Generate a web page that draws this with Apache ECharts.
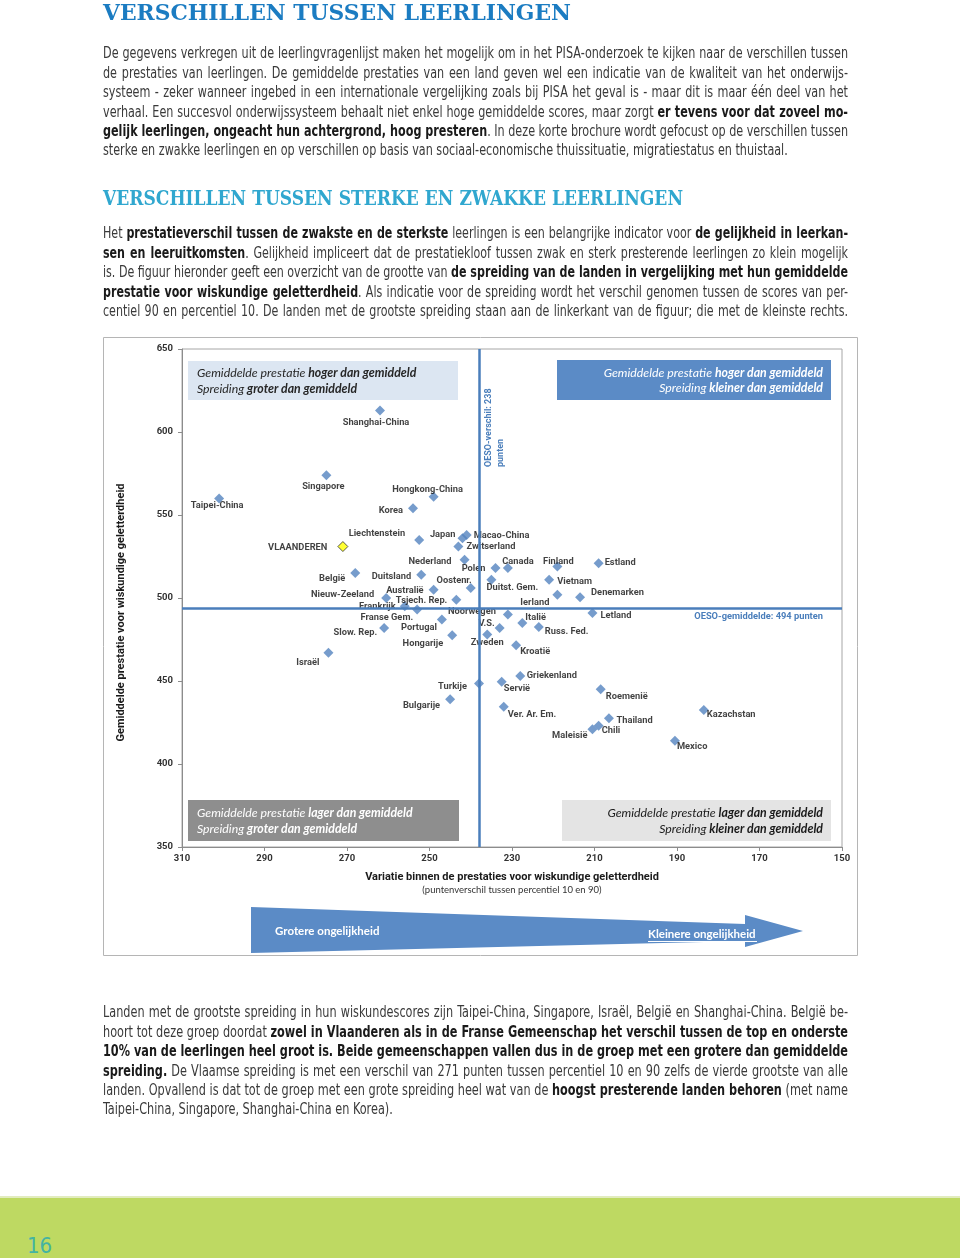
<!DOCTYPE html>
<html>
<head>
<meta charset="utf-8">
<script src="https://cdn.jsdelivr.net/npm/echarts@6/dist/echarts.min.js"></script>
<style>
html, body { margin: 0; padding: 0; background: #fff; }
#page { position: relative; width: 960px; height: 1258px; overflow: hidden; }
#container { position: absolute; left: 0; top: 0; width: 960px; height: 1258px; }
.txt { position: absolute; left: 103px; white-space: nowrap; font-family: 'Liberation Sans Narrow', 'DejaVu Sans Condensed', 'Liberation Sans', sans-serif; font-size: 15px; line-height: 19.4px; height: 19.4px; color: #3a3a3a; }
.txt b { color: #1a1a1a; }
.txt span, .kop span { display: inline-block; transform-origin: 0 50%; }
.kop { position: absolute; left: 103px; white-space: nowrap; font-family: 'DejaVu Serif', serif; font-weight: bold; }
#band { position: absolute; left: 0; top: 1196px; width: 960px; height: 62px; background: #bed962; border-top: 2px solid #e2ecbf; }
#pnum { position: absolute; left: 27px; top: 1233px; font-family: 'Liberation Sans Narrow', 'DejaVu Sans Condensed', sans-serif; font-size: 22px; color: #44b3a2; }
</style>
</head>
<body>
<div id="page">
  <div id="container"></div>
  <div id="band"></div>
  <div id="pnum">16</div>
</div>
<script>
// tekst rond de figuur
var kop1 = 'VERSCHILLEN TUSSEN LEERLINGEN';
var kop2 = 'VERSCHILLEN TUSSEN STERKE EN ZWAKKE LEERLINGEN';

var par1 = [
    'De gegevens verkregen uit de leerlingvragenlijst maken het mogelijk om in het PISA-onderzoek te kijken naar de verschillen tussen',
    'de prestaties van leerlingen. De gemiddelde prestaties van een land geven wel een indicatie van de kwaliteit van het onderwijs-',
    'systeem - zeker wanneer ingebed in een internationale vergelijking zoals bij PISA het geval is - maar dit is maar één deel van het',
    'verhaal. Een succesvol onderwijssysteem behaalt niet enkel hoge gemiddelde scores, maar zorgt <b>er tevens voor dat zoveel mo-</b>',
    '<b>gelijk leerlingen, ongeacht hun achtergrond, hoog presteren</b>. In deze korte brochure wordt gefocust op de verschillen tussen',
    'sterke en zwakke leerlingen en op verschillen op basis van sociaal-economische thuissituatie, migratiestatus en thuistaal.'
];
var par2 = [
    'Het <b>prestatieverschil tussen de zwakste en de sterkste</b> leerlingen is een belangrijke indicator voor <b>de gelijkheid in leerkan-</b>',
    '<b>sen en leeruitkomsten</b>. Gelijkheid impliceert dat de prestatiekloof tussen zwak en sterk presterende leerlingen zo klein mogelijk',
    'is. De figuur hieronder geeft een overzicht van de grootte van <b>de spreiding van de landen in vergelijking met hun gemiddelde</b>',
    '<b>prestatie voor wiskundige geletterdheid</b>. Als indicatie voor de spreiding wordt het verschil genomen tussen de scores van per-',
    'centiel 90 en percentiel 10. De landen met de grootste spreiding staan aan de linkerkant van de figuur; die met de kleinste rechts.'
];
var par3 = [
    'Landen met de grootste spreiding in hun wiskundescores zijn Taipei-China, Singapore, Israël, België en Shanghai-China. België be-',
    'hoort tot deze groep doordat <b>zowel in Vlaanderen als in de Franse Gemeenschap het verschil tussen de top en onderste</b>',
    '<b>10% van de leerlingen heel groot is. Beide gemeenschappen vallen dus in de groep met een grotere dan gemiddelde</b>',
    '<b>spreiding.</b> De Vlaamse spreiding is met een verschil van 271 punten tussen percentiel 10 en 90 zelfs de vierde grootste van alle',
    'landen. Opvallend is dat tot de groep met een grote spreiding heel wat van de <b>hoogst presterende landen behoren</b> (met name',
    'Taipei-China, Singapore, Shanghai-China en Korea).'
];

// gegevens van de figuur: spreiding (P90-P10) en gemiddelde score
var landen = ['Shanghai-China', 'Singapore', 'Taipei-China', 'Hongkong-China', 'Korea', 'Liechtenstein', 'Japan',
    'Macao-China', 'Zwitserland', 'Nederland', 'Polen', 'Canada', 'Finland', 'Estland', 'Vietnam', 'Duitst. Gem.',
    'Oostenr.', 'Duitsland', 'België', 'Australië', 'Nieuw-Zeeland', 'Tsjech. Rep.', 'Frankrijk', 'Franse Gem.',
    'Noorwegen', 'Portugal', 'Italië', 'Letland', 'Denemarken', 'Ierland', 'V.S.', 'Russ. Fed.', 'Slow. Rep.',
    'Hongarije', 'Zweden', 'Kroatië', 'Israël', 'Griekenland', 'Turkije', 'Servië', 'Roemenië', 'Bulgarije',
    'Ver. Ar. Em.', 'Kazachstan', 'Thailand', 'Chili', 'Maleisië', 'Mexico'];
var spreiding = [262, 275, 301, 249, 254, 252.5, 242,
    241, 243, 241.5, 234, 231, 219, 209, 221, 235,
    240, 252, 268, 249, 260.5, 243.5, 256, 253,
    231, 247, 227.5, 210.5, 213.5, 219, 233, 223.5, 261,
    244.5, 236, 229, 274.5, 228, 238, 232.5, 208.5, 245,
    232, 183.5, 206.5, 209, 210.5, 190.5];
var gemiddelde = [613, 574, 560, 561, 554, 535, 536,
    538, 531, 523, 518, 518, 519, 521, 511, 511,
    506, 514, 515, 505, 500, 499, 495, 493,
    490, 487, 485, 491, 500.5, 502, 482, 482.5, 482,
    477.5, 478, 471.5, 467, 453, 448.5, 449.5, 445, 439,
    434.5, 432.5, 427.5, 423, 421, 414];

var vlaanderen = { naam: 'VLAANDEREN', spreiding: 271, gemiddelde: 531 };
var oesoVerschil = 238;
var oesoGemiddelde = 494;

var xTicks = { min: 150, max: 310, interval: 20 };
var yTicks = { min: 350, max: 650, interval: 50 };

// plaats van de etiketten: [positie, dx, dy]
var etiket = {
    'Shanghai-China': ['bottom', -4, -2.5], 'Singapore': ['bottom', -3, -3], 'Taipei-China': ['bottom', -2, -7],
    'Hongkong-China': ['top', -6, 7.5], 'Korea': ['left', 0, 2], 'Liechtenstein': ['left', -4, -6],
    'Japan': ['left', 3, -4], 'Macao-China': ['right', -3, 1], 'Zwitserland': ['right', -2, 0],
    'Nederland': ['left', -3, 2], 'Polen': ['left', 0, 1], 'Canada': ['top', 10, 8], 'Finland': ['top', 1, 9.5],
    'Estland': ['right', -4, 0], 'Vietnam': ['right', -2, 2], 'Duitst. Gem.': ['bottom', 21, -6.5],
    'Oostenr.': ['left', 11, -7], 'Duitsland': ['left', 0, 2], 'België': ['left', 0, 6], 'Australië': ['left', 0, 1],
    'Nieuw-Zeeland': ['left', -2, -3], 'Tsjech. Rep.': ['left', 1, 1], 'Frankrijk': ['left', 1, 0],
    'Franse Gem.': ['left', 6, 8], 'Noorwegen': ['left', -2, -3], 'Portugal': ['left', 5, 8], 'Italië': ['right', -7, -5],
    'Letland': ['right', -2, 3], 'Denemarken': ['right', 1, -4], 'Ierland': ['left', 2, 8], 'V.S.': ['left', 5, -4],
    'Russ. Fed.': ['right', -4, 5], 'Slow. Rep.': ['left', 3, 5], 'Hongarije': ['left', 1, 8], 'Zweden': ['bottom', 0, -6.5],
    'Kroatië': ['right', -6, 6], 'Israël': ['left', 1, 10], 'Griekenland': ['right', -3.5, 0], 'Turkije': ['left', -2, 3],
    'Servië': ['right', -8, 7], 'Roemenië': ['right', -5, 7], 'Bulgarije': ['left', 0, 6], 'Ver. Ar. Em.': ['right', -6, 8],
    'Kazachstan': ['right', -7, 5], 'Thailand': ['right', -2.5, 2], 'Chili': ['right', -7, 5], 'Maleisië': ['left', 5, 7],
    'Mexico': ['right', -8, 6], 'VLAANDEREN': ['left', -5, 1]
};

var page = document.getElementById('page');

/**
 * zet een paragraaf regel per regel, uitgevuld op 745px
 */
var zetTekst = function (lines, top, lastFull) {
    var breedte = 745;
    var spans = [];
    for (var i = 0; i < lines.length; i++) {
        var div = document.createElement('div');
        div.className = 'txt';
        div.style.top = (top + i * 19.4) + 'px';
        div.innerHTML = '<span>' + lines[i] + '</span>';
        page.appendChild(div);
        spans.push(div.firstChild);
    }
    var schaal = 1;
    for (var i = 0; i < spans.length; i++) {
        var full = i < spans.length - 1 || lastFull;
        var w = spans[i].getBoundingClientRect().width;
        if (full && w > breedte) schaal = Math.min(schaal, breedte / w);
    }
    for (var i = 0; i < spans.length; i++) {
        var full = i < spans.length - 1 || lastFull;
        var w = spans[i].getBoundingClientRect().width;
        if (full) {
            var n = (spans[i].textContent.match(/ /g) || []).length;
            var rest = breedte / schaal - w;
            if (n > 0 && rest > 0) spans[i].style.wordSpacing = (rest / n) + 'px';
        }
        if (schaal < 1) spans[i].style.transform = 'scaleX(' + schaal + ')';
    }
};

var zetKop = function (tekst, top, size, color, breedte) {
    var div = document.createElement('div');
    div.className = 'kop';
    div.style.top = top + 'px';
    div.style.fontSize = size + 'px';
    div.style.lineHeight = size + 'px';
    div.style.color = color;
    div.innerHTML = '<span>' + tekst + '</span>';
    page.appendChild(div);
    var w = div.firstChild.getBoundingClientRect().width;
    div.firstChild.style.transform = 'scaleX(' + (breedte / w) + ')';
};

zetKop(kop1, 0, 23, '#1b7cc2', 468);
zetKop(kop2, 188, 20, '#30a7cf', 580);
zetTekst(par1, 44.3, false);
zetTekst(par2, 224.3, true);
zetTekst(par3, 1003.3, false);

// de figuur
var punten = [];
for (var i = 0; i < landen.length; i++) {
    var e = etiket[landen[i]];
    punten.push({
        name: landen[i],
        value: [spreiding[i], gemiddelde[i]],
        label: { position: e[0], offset: [e[1], e[2]] }
    });
}
var ev = etiket[vlaanderen.naam];
var vlPunt = [{
    name: vlaanderen.naam,
    value: [vlaanderen.spreiding, vlaanderen.gemiddelde],
    label: { position: ev[0], offset: [ev[1], ev[2]] }
}];

var fnt = 'Lato, sans-serif';
var fntB = 'Roboto, sans-serif';
var blauw = '#4a7ebb';

var kader = function (x, y, w, h, fill, tekst, color, align) {
    var tx = align === 'left' ? x + 9 : x + w - 8;
    return [{
        type: 'rect', shape: { x: x, y: y, width: w, height: h }, style: { fill: fill }, z: 1
    }, {
        type: 'text', x: tx, y: y + h / 2 + 0.5, z: 2,
        style: {
            text: tekst, align: align, verticalAlign: 'middle', fill: color,
            rich: {
                i: { fontFamily: fnt, fontStyle: 'italic', fontSize: 12.3, lineHeight: 15.5, fill: color },
                b: { fontFamily: fnt, fontStyle: 'italic', fontWeight: 'bold', fontSize: 12.3, lineHeight: 15.5, fill: color }
            }
        }
    }];
};

var dom = document.getElementById('container');
var myChart = echarts.init(dom, null, { renderer: 'canvas' });

var graphics = [{
    type: 'rect', shape: { x: 103.5, y: 337.5, width: 754, height: 618 },
    style: { fill: null, stroke: '#b5b5b5', lineWidth: 1 }, z: 0
}];
graphics = graphics.concat(kader(188, 361, 270, 39, '#dce6f2',
    '{i|Gemiddelde prestatie }{b|hoger dan gemiddeld}\n{i|Spreiding }{b|groter dan gemiddeld}', '#262626', 'left'));
graphics = graphics.concat(kader(557, 360, 274, 40, '#5b8bc6',
    '{i|Gemiddelde prestatie }{b|hoger dan gemiddeld}\n{i|Spreiding }{b|kleiner dan gemiddeld}', '#ffffff', 'right'));
graphics = graphics.concat(kader(188, 800, 271, 41, '#8e8e8e',
    '{i|Gemiddelde prestatie }{b|lager dan gemiddeld}\n{i|Spreiding }{b|groter dan gemiddeld}', '#ffffff', 'left'));
graphics = graphics.concat(kader(562, 800, 269, 41, '#e4e4e4',
    '{i|Gemiddelde prestatie }{b|lager dan gemiddeld}\n{i|Spreiding }{b|kleiner dan gemiddeld}', '#1a1a1a', 'right'));
graphics.push({
    type: 'text', x: 483, y: 467, rotation: Math.PI / 2, z: 5,
    style: {
        text: 'OESO-verschil: 238\npunten', align: 'left', verticalAlign: 'top',
        fill: blauw, font: 'bold 9px ' + fntB, lineHeight: 12
    }
});
// as-titel links (iets onder het midden van de as, zoals in het origineel)
graphics.push({
    type: 'text', x: 121, y: 612.5, rotation: Math.PI / 2, z: 5,
    style: {
        text: 'Gemiddelde prestatie voor wiskundige geletterdheid', align: 'center', verticalAlign: 'middle',
        fill: '#1a1a1a', font: 'bold 11px ' + fntB
    }
});
graphics.push({
    type: 'text', x: 512, y: 889.5, z: 5,
    style: { text: '(puntenverschil tussen percentiel 10 en 90)', align: 'center', verticalAlign: 'middle', fill: '#333', font: '9.5px ' + fnt }
});
graphics.push({
    type: 'polygon', z: 5,
    shape: { points: [[251, 907], [745, 924], [745, 915], [803, 931], [745, 947], [745, 941], [251, 953]] },
    style: { fill: '#5b8bc6' }
});
graphics.push({
    type: 'text', x: 275, y: 931, z: 6,
    style: { text: 'Grotere ongelijkheid', align: 'left', verticalAlign: 'middle', fill: '#fff', font: 'bold 11.5px ' + fnt }
});
graphics.push({
    type: 'text', x: 648, y: 934.5, z: 6,
    style: { text: 'Kleinere ongelijkheid', align: 'left', verticalAlign: 'middle', fill: '#fff', font: 'bold 11.5px ' + fnt }
});
graphics.push({
    type: 'line', z: 6, shape: { x1: 648, y1: 941.5, x2: 757, y2: 941.5 }, style: { stroke: '#fff', lineWidth: 1 }
});

var option = {
    animation: false,
    textStyle: { fontFamily: fntB },
    grid: { left: 182, top: 349, width: 660, height: 498, show: true, borderColor: '#a6a6a6', borderWidth: 1 },
    xAxis: {
        type: 'value', inverse: true,
        min: xTicks.min, max: xTicks.max, interval: xTicks.interval,
        name: 'Variatie binnen de prestaties voor wiskundige geletterdheid',
        nameLocation: 'middle', nameGap: 25,
        nameTextStyle: { fontFamily: fntB, fontWeight: 'bold', fontSize: 11, color: '#1a1a1a' },
        axisLine: { lineStyle: { color: '#8c8c8c' } },
        axisTick: { show: true, length: 4, lineStyle: { color: '#8c8c8c' } },
        axisLabel: { fontFamily: fntB, fontWeight: 'bold', fontSize: 9.5, color: '#333', margin: 7 },
        splitLine: { show: false }
    },
    yAxis: {
        type: 'value',
        min: yTicks.min, max: yTicks.max, interval: yTicks.interval,
        axisLine: { show: true, lineStyle: { color: '#8c8c8c' } },
        axisTick: { show: true, length: 4, lineStyle: { color: '#8c8c8c' } },
        axisLabel: { fontFamily: fntB, fontWeight: 'bold', fontSize: 9.5, color: '#333', margin: 9 },
        splitLine: { show: false }
    },
    graphic: graphics,
    series: [
        {
            name: 'landen',
            type: 'scatter',
            symbol: 'diamond',
            symbolSize: 10,
            itemStyle: { color: '#5483bf' },
            label: { show: true, formatter: '{b}', fontFamily: fntB, fontWeight: 'bold', fontSize: 9.3, color: '#111', distance: 5 },
            data: punten,
            z: 4,
            markLine: {
                silent: true,
                symbol: ['none', 'none'],
                lineStyle: { color: blauw, width: 2.5, type: 'solid' },
                data: [
                    { xAxis: oesoVerschil, label: { show: false } },
                    {
                        yAxis: oesoGemiddelde,
                        label: {
                            show: true, position: 'insideStartBottom', formatter: 'OESO-gemiddelde: 494 punten',
                            fontFamily: fntB, fontWeight: 'bold', fontSize: 9.3, color: blauw, distance: [19, 4]
                        }
                    }
                ]
            }
        },
        {
            name: 'Vlaanderen',
            type: 'scatter',
            symbol: 'diamond',
            symbolSize: 10,
            itemStyle: { color: '#ffff00', borderColor: '#333', borderWidth: 1 },
            label: { show: true, formatter: '{b}', fontFamily: fntB, fontWeight: 'bold', fontSize: 9.3, color: '#111', distance: 5 },
            data: vlPunt,
            z: 5
        }
    ]
};

if (option && typeof option === 'object') {
    myChart.setOption(option);
}
</script>
</body>
</html>
